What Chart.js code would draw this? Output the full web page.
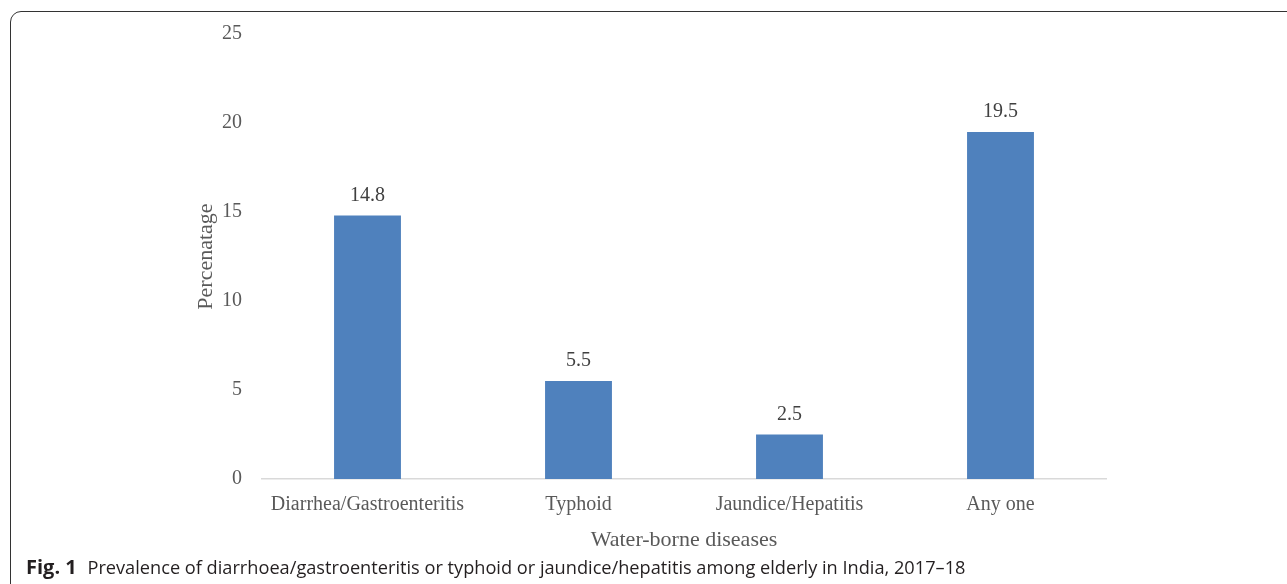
<!DOCTYPE html>
<html lang="en">
<head>
    <meta charset="UTF-8">
    <title>Water-borne diseases among elderly</title>
    <style>
        html, body {
            margin: 0;
            padding: 0;
            background: #fff;
            overflow: hidden;
        }
        .frame {
            position: absolute;
            left: 10px;
            top: 11px;
            width: 1400px;
            height: 700px;
            border: 1.5px solid #333;
            border-top-left-radius: 11px;
        }
        #chart {
            position: absolute;
            left: 0;
            top: 0;
        }
        .caption {
            position: absolute;
            left: 26px;
            top: 553px;
            font-family: "Open Sans", sans-serif;
            font-size: 18.2px;
            color: #231f20;
            white-space: nowrap;
        }
        .caption b {
            font-size: 20px;
            margin-right: 6px;
        }
    </style>
</head>
<body>
    <div class="frame"></div>
    <canvas id="chart" width="1287" height="584"></canvas>
    <div class="caption"><b>Fig. 1</b> Prevalence of diarrhoea/gastroenteritis or typhoid or jaundice/hepatitis among elderly in India, 2017–18</div>

    <script src="https://cdn.jsdelivr.net/npm/chart.js"></script>
    <script>
        // datos del gráfico
        const categories = ['Diarrhea/Gastroenteritis', 'Typhoid', 'Jaundice/Hepatitis', 'Any one'];
        const prevalence = [14.8, 5.5, 2.5, 19.5];
        const yTicks = [0, 5, 10, 15, 20, 25];

        const serif = '"Liberation Serif", "Times New Roman", serif';
        const textColor = '#595959';

        // etiquetas encima de cada barra
        const barLabels = {
            id: 'barLabels',
            afterDatasetsDraw(chart) {
                const ctx = chart.ctx;
                const meta = chart.getDatasetMeta(0);
                ctx.save();
                ctx.font = '20px ' + serif;
                ctx.fillStyle = '#404040';
                ctx.textAlign = 'center';
                ctx.textBaseline = 'bottom';
                meta.data.forEach((bar, i) => {
                    ctx.fillText(prevalence[i].toFixed(1), bar.x, bar.y - 10);
                });
                ctx.restore();
            }
        };

        new Chart(document.getElementById('chart').getContext('2d'), {
            type: 'bar',
            data: {
                labels: categories,
                datasets: [{
                    data: prevalence,
                    backgroundColor: '#4F81BD',
                    borderWidth: 0,
                    categoryPercentage: 1,
                    barPercentage: 0.317
                }]
            },
            options: {
                responsive: false,
                animation: false,
                layout: {
                    padding: { left: 189, right: 181, top: 34, bottom: 27 }
                },
                scales: {
                    x: {
                        grid: { display: false },
                        border: { display: true, color: '#d9d9d9', width: 1.5 },
                        ticks: {
                            font: { family: serif, size: 20 },
                            color: textColor,
                            padding: 6,
                            maxRotation: 0
                        },
                        title: {
                            display: true,
                            text: 'Water-borne diseases',
                            font: { family: serif, size: 22 },
                            color: textColor,
                            padding: 4
                        },
                        afterFit(scale) { scale.height = 78; }
                    },
                    y: {
                        min: 0,
                        max: 25,
                        afterBuildTicks(scale) {
                            scale.ticks = yTicks.map(v => ({ value: v }));
                        },
                        grid: { display: false },
                        border: { display: false },
                        ticks: {
                            font: { family: serif, size: 20 },
                            color: textColor,
                            padding: 12
                        },
                        title: {
                            display: true,
                            text: 'Percenatage',
                            font: { family: serif, size: 22 },
                            color: textColor,
                            padding: 4
                        },
                        afterFit(scale) { scale.width = 73; }
                    }
                },
                plugins: {
                    legend: { display: false },
                    tooltip: { enabled: false }
                }
            },
            plugins: [barLabels]
        });
    </script>
</body>
</html>
